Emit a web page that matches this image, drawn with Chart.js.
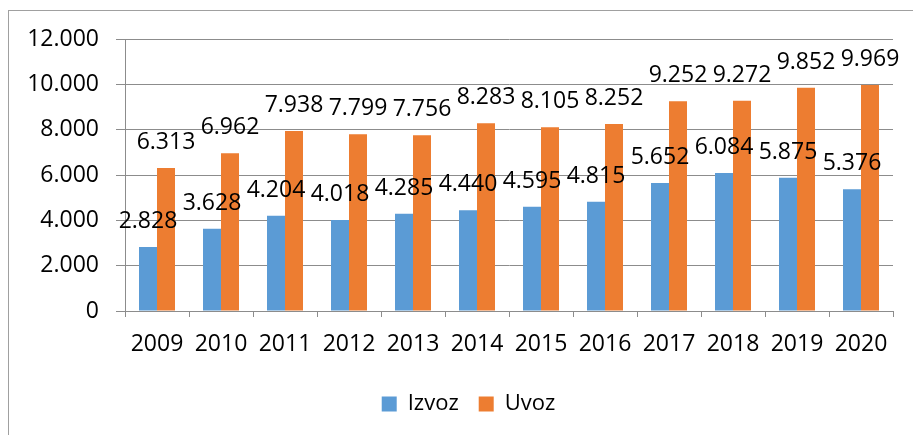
<!DOCTYPE html>
<html>
<head>
<meta charset="utf-8">
<script src="https://cdn.jsdelivr.net/npm/chart.js@4/dist/chart.umd.min.js"></script>
<style>
  html, body { margin: 0; padding: 0; background: #fff; }
  .wrap { position: relative; width: 913px; height: 435px; }
  .frame {
    position: absolute; left: 8px; top: 10px; width: 920px; height: 440px;
    border-left: 1px solid #a0a0a0; border-top: 1px solid #a0a0a0;
    pointer-events: none;
  }
</style>
</head>
<body>
<div class="wrap">
  <canvas id="chart" width="913" height="435"></canvas>
  <div class="frame"></div>
</div>
<script>
/* ─── Data ─────────────────────────────────────────────────────────────── */
const years  = ['2009', '2010', '2011', '2012', '2013', '2014', '2015', '2016', '2017', '2018', '2019', '2020'];
const izvoz  = [2828, 3628, 4204, 4018, 4285, 4440, 4595, 4815, 5652, 6084, 5875, 5376];
const uvoz   = [6313, 6962, 7938, 7799, 7756, 8283, 8105, 8252, 9252, 9272, 9852, 9969];
const yTicks = [0, 2000, 4000, 6000, 8000, 10000, 12000];

const FONT = '"Open Sans", sans-serif';

/* ─── Helpers ──────────────────────────────────────────────────────────── */
function fmtDot(v) {
  return String(v).replace(/\B(?=(\d{3})+(?!\d))/g, '.');
}

// value labels above each bar (no datalabels plugin available)
const barLabels = {
  id: 'barLabels',
  afterDatasetsDraw(chart) {
    const ctx = chart.ctx;
    ctx.save();
    ctx.font = `23px ${FONT}`;
    ctx.fillStyle = '#000';
    ctx.textAlign = 'center';
    ctx.textBaseline = 'alphabetic';
    chart.data.datasets.forEach((ds, i) => {
      chart.getDatasetMeta(i).data.forEach((bar, j) => {
        ctx.fillText(fmtDot(ds.data[j]), bar.x, bar.y - 19);
      });
    });
    ctx.restore();
  }
};

// legend in the original sits a bit right of the plot centre
const legendShift = {
  id: 'legendShift',
  afterLayout(chart) {
    if (!chart.legend) return;
    chart.legend.left += 22;
    chart.legend.right += 22;
  }
};

/* ─── Chart ────────────────────────────────────────────────────────────── */
new Chart(document.getElementById('chart'), {
  type: 'bar',
  data: {
    labels: years,
    datasets: [
      { label: 'Izvoz', data: izvoz, backgroundColor: '#5B9BD5' },
      { label: 'Uvoz',  data: uvoz,  backgroundColor: '#ED7D31' }
    ]
  },
  options: {
    responsive: false,
    animation: false,
    layout: { padding: { top: 39, right: 20, bottom: 10, left: 0 } },
    datasets: { bar: { categoryPercentage: 0.5625, barPercentage: 1 } },
    scales: {
      x: {
        afterFit: s => { s.height = 62; },
        grid: { drawOnChartArea: false, color: '#8c8c8c', tickLength: 6 },
        border: { color: '#8c8c8c' },
        ticks: { color: '#000', font: { family: FONT, size: 23 }, padding: 14, maxRotation: 0 }
      },
      y: {
        min: 0, max: 12000,
        afterFit: s => { s.width = 125; },
        afterBuildTicks: s => { s.ticks = yTicks.map(v => ({ value: v })); },
        grid: { color: '#8c8c8c', tickLength: 9 },
        border: { color: '#8c8c8c' },
        ticks: { color: '#000', font: { family: FONT, size: 23 }, padding: 17, callback: v => fmtDot(v) }
      }
    },
    plugins: {
      legend: {
        position: 'bottom',
        labels: { color: '#000', font: { family: FONT, size: 22 }, boxWidth: 15, boxHeight: 15, padding: 20 }
      },
      tooltip: { enabled: false }
    }
  },
  plugins: [barLabels, legendShift]
});
</script>
</body>
</html>
